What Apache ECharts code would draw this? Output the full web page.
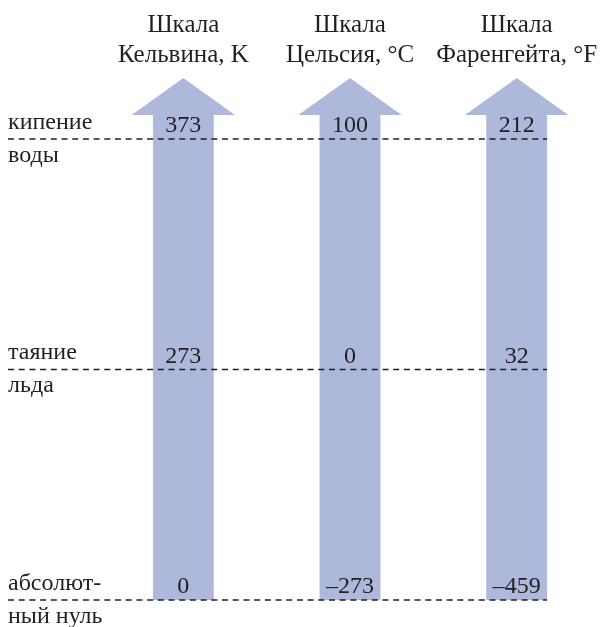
<!DOCTYPE html>
<html lang="ru">
<head>
    <meta charset="UTF-8">
    <title>Шкалы температур</title>
    <script src="https://cdn.jsdelivr.net/npm/echarts@6/dist/echarts.min.js"></script>
    <style>
        html, body { margin: 0; padding: 0; background: #fff; }
    </style>
</head>
<body>
    <div id="tempChart" style="width:603px;height:627px;"></div>
<script>
    // шкалы (столбцы) и события (строки снизу вверх)
    var scaleNames = ['Шкала\nКельвина, K', 'Шкала\nЦельсия, °C', 'Шкала\nФаренгейта, °F'];
    var eventNames = ['абсолют-\nный нуль', 'таяние\nльда', 'кипение\nводы'];

    // значения по событиям: абс. нуль, таяние льда, кипение воды
    var kelvinValues = [0, 273, 373];
    var celsiusValues = [-273, 0, 100];
    var fahrenheitValues = [-459, 32, 212];

    var FONT = '"Liberation Serif", "DejaVu Serif", serif';
    var TEXT = '#231f20';
    var ARROW = '#adb8db';

    var valueRows = [kelvinValues, celsiusValues, fahrenheitValues];
    var valueData = [];
    valueRows.forEach(function (row, i) {
        row.forEach(function (v, j) {
            valueData.push([i, j, v]);
        });
    });

    function fmt(v) {
        return v < 0 ? '–' + Math.abs(v) : String(v);
    }

    var chart = echarts.init(document.getElementById('tempChart'));

    var option = {
        animation: false,
        grid: { left: 100, right: 3, top: 139, bottom: 27, outerBoundsMode: 'none', containLabel: false },
        xAxis: {
            type: 'category',
            position: 'top',
            data: scaleNames,
            axisLine: { show: false },
            axisTick: { show: false },
            splitLine: { show: false },
            axisLabel: {
                interval: 0,
                margin: 69,
                color: TEXT,
                fontFamily: FONT,
                fontSize: 25,
                lineHeight: 30,
                align: 'center'
            }
        },
        yAxis: {
            type: 'category',
            data: eventNames,
            boundaryGap: false,
            axisLine: { show: false },
            axisTick: { show: false },
            splitLine: { show: false },
            axisLabel: {
                interval: 0,
                margin: 92,
                align: 'left',
                color: TEXT,
                fontFamily: FONT,
                fontSize: 24,
                lineHeight: 33
            }
        },
        series: [
            {
                // стрелки шкал
                type: 'custom',
                z: 1,
                clip: false,
                data: scaleNames.map(function (s, i) { return [i, 0, eventNames.length - 1]; }),
                renderItem: function (params, api) {
                    var i = api.value(0);
                    var bottom = api.coord([i, api.value(1)]);
                    var top = api.coord([i, api.value(2)]);
                    var band = api.size([1, 0])[0];
                    var cx = bottom[0];
                    var sw = band * 0.365, hw = band * 0.62;
                    var yBase = top[1] - 24, yApex = top[1] - 61;
                    return {
                        type: 'polygon',
                        shape: {
                            points: [
                                [cx - sw / 2, bottom[1]],
                                [cx - sw / 2, yBase],
                                [cx - hw / 2, yBase],
                                [cx, yApex],
                                [cx + hw / 2, yBase],
                                [cx + sw / 2, yBase],
                                [cx + sw / 2, bottom[1]]
                            ]
                        },
                        style: { fill: ARROW }
                    };
                }
            },
            {
                // пунктирные линии событий
                type: 'custom',
                z: 2,
                clip: false,
                data: eventNames.map(function (e, j) { return [scaleNames.length - 1, j]; }),
                renderItem: function (params, api) {
                    var p = api.coord([api.value(0), api.value(1)]);
                    var sw = api.size([1, 0])[0] * 0.365;
                    return {
                        type: 'line',
                        shape: { x1: 8, y1: p[1], x2: p[0] + sw / 2, y2: p[1] },
                        style: { stroke: TEXT, lineWidth: 1.3, lineDash: [6, 4.7] }
                    };
                }
            },
            {
                // значения на шкалах
                type: 'custom',
                z: 3,
                clip: false,
                data: valueData,
                renderItem: function (params, api) {
                    var p = api.coord([api.value(0), api.value(1)]);
                    return {
                        type: 'text',
                        style: {
                            x: p[0],
                            y: p[1] - 13,
                            text: fmt(api.value(2)),
                            fill: TEXT,
                            font: '24px ' + FONT,
                            align: 'center',
                            verticalAlign: 'middle'
                        }
                    };
                }
            }
        ]
    };

    chart.setOption(option);
</script>
</body>
</html>
